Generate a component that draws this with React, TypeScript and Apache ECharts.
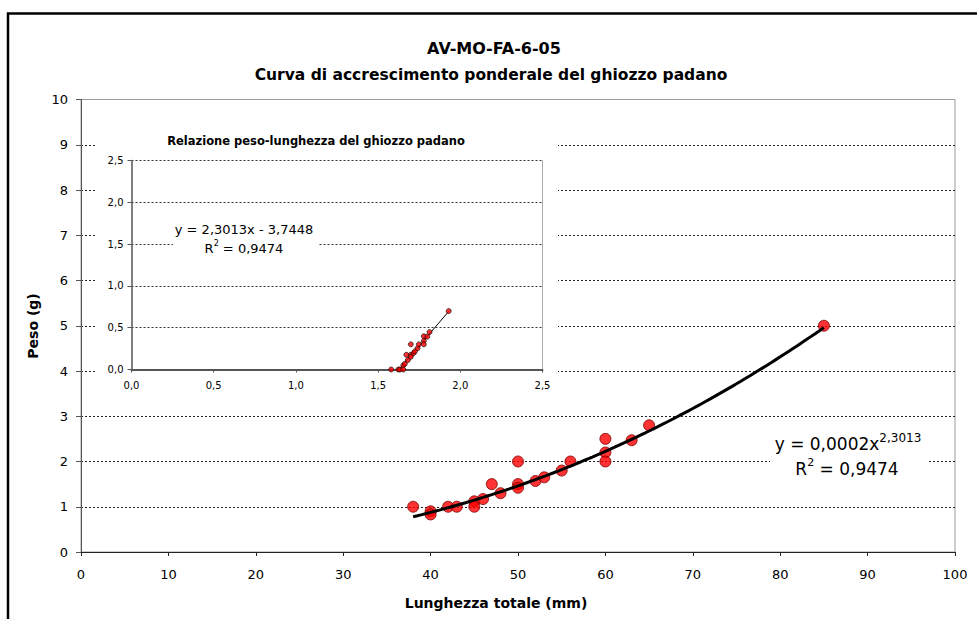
import React, { useEffect, useRef } from "react";
import * as echarts from "echarts";

// ---- data ----
const lengthsMm = [38, 40, 40, 42, 43, 45, 45, 46, 47, 48, 50, 50, 50, 52, 53, 55, 56, 60, 60, 60, 63, 65, 85];
const weightsG = [1.0, 0.9, 0.83, 1.0, 1.0, 1.12, 1.0, 1.17, 1.5, 1.3, 2.0, 1.5, 1.42, 1.57, 1.65, 1.8, 2.0, 2.5, 2.2, 2.0, 2.47, 2.8, 5.0];

// fitted trend (log10 W = slope * log10 L + intercept), as printed on the chart
const trendSlope = 2.3013;
const trendIntercept = -3.7448;

const mainXTicks = [0, 100, 10];
const mainYTicks = [0, 10, 1];
const insetTicks = [0, 2.5, 0.5];

const titleText = "AV-MO-FA-6-05";
const subtitleText = "Curva di accrescimento ponderale del ghiozzo padano";
const insetTitleText = "Relazione peso-lunghezza del ghiozzo padano";
const xName = "Lunghezza totale (mm)";
const yName = "Peso (g)";

const FONT = '"DejaVu Sans", Verdana, sans-serif';

export default function App() {
  const ref = useRef<HTMLDivElement>(null);
  useEffect(() => {
    if (!ref.current) return;
    const chart = echarts.init(ref.current, undefined, { renderer: "svg" });

    const mainPts = lengthsMm.map((l, i) => [l, weightsG[i]]);
    const logPts = lengthsMm.map((l, i) => [Math.log10(l), Math.log10(weightsG[i])]);
    const lMin = Math.min(...lengthsMm);
    const lMax = Math.max(...lengthsMm);
    const curve: number[][] = [];
    for (let k = 0; k <= 94; k++) {
      const l = lMin + ((lMax - lMin) * k) / 94;
      curve.push([l, Math.pow(10, trendSlope * Math.log10(l) + trendIntercept)]);
    }
    const lgMin = Math.log10(lMin);
    const lgMax = Math.log10(lMax);
    const insetLine = [
      [lgMin, trendSlope * lgMin + trendIntercept],
      [lgMax, trendSlope * lgMax + trendIntercept],
    ];
    const comma = (v: number) => v.toFixed(1).replace(".", ",");
    const center = { align: "center", verticalAlign: "middle", textAlign: "center", textVerticalAlign: "middle" };

    chart.setOption({
      animation: false,
      backgroundColor: "#fff",
      textStyle: { fontFamily: FONT, color: "#000" },
      grid: [
        { left: 81, top: 99.5, right: 22, bottom: 67, show: true, borderColor: "#9a9a9a", borderWidth: 1, backgroundColor: "transparent" },
        { left: 131.5, top: 160.5, width: 411, height: 209, show: false },
      ],
      xAxis: [
        {
          gridIndex: 0, type: "value", min: mainXTicks[0], max: mainXTicks[1], interval: mainXTicks[2],
          axisLine: { show: true, onZero: false, lineStyle: { color: "#222", width: 1 } },
          axisTick: { show: true, length: 4, lineStyle: { color: "#222" } },
          axisLabel: { fontSize: 13, margin: 16, color: "#000", fontFamily: FONT },
          splitLine: { show: false },
          z: 2,
        },
        {
          gridIndex: 1, type: "value", min: insetTicks[0], max: insetTicks[1], interval: insetTicks[2],
          axisLine: { show: true, onZero: false, lineStyle: { color: "#555", width: 2 } },
          axisTick: { show: true, length: 3, lineStyle: { color: "#555" } },
          axisLabel: { fontSize: 10, margin: 11, color: "#000", fontFamily: FONT, formatter: comma },
          splitLine: { show: false },
          z: 5,
        },
      ],
      yAxis: [
        {
          gridIndex: 0, type: "value", min: mainYTicks[0], max: mainYTicks[1], interval: mainYTicks[2],
          axisLine: { show: true, onZero: false, lineStyle: { color: "#555", width: 1 } },
          axisTick: { show: true, length: 5, lineStyle: { color: "#555" } },
          axisLabel: { fontSize: 13, margin: 13, color: "#000", fontFamily: FONT },
          splitLine: { show: true, showMinLine: false, showMaxLine: false, lineStyle: { color: "#222", type: [2, 2], width: 1 } },
          z: 2,
        },
        {
          gridIndex: 1, type: "value", min: insetTicks[0], max: insetTicks[1], interval: insetTicks[2],
          axisLine: { show: true, onZero: false, lineStyle: { color: "#555", width: 1.5 } },
          axisTick: { show: true, length: 4, lineStyle: { color: "#555" } },
          axisLabel: { fontSize: 10, margin: 8, color: "#000", fontFamily: FONT, formatter: comma },
          splitLine: { show: true, showMinLine: false, lineStyle: { color: "#333", type: [2, 2], width: 1 } },
          z: 5,
        },
        {
          gridIndex: 1, type: "value", position: "right", min: insetTicks[0], max: insetTicks[1], interval: insetTicks[2],
          axisLine: { show: true, onZero: false, lineStyle: { color: "#aaa", width: 1 } },
          axisTick: { show: false }, axisLabel: { show: false }, splitLine: { show: false },
          z: 5,
        },
      ],
      series: [
        {
          type: "scatter", xAxisIndex: 0, yAxisIndex: 0, data: mainPts, symbolSize: 11,
          itemStyle: { color: "#ff0000", borderColor: "#7a0000", borderWidth: 1 }, z: 4,
        },
        {
          type: "line", xAxisIndex: 0, yAxisIndex: 0, data: curve, showSymbol: false, symbol: "none",
          lineStyle: { color: "#000", width: 3 }, z: 5,
        },
        {
          type: "line", xAxisIndex: 1, yAxisIndex: 1, data: insetLine, showSymbol: false, symbol: "none", clip: true,
          lineStyle: { color: "#000", width: 1 }, z: 6,
        },
        {
          type: "scatter", xAxisIndex: 1, yAxisIndex: 1, data: logPts, symbolSize: 5, clip: true,
          itemStyle: { color: "#ff0000", borderColor: "#000", borderWidth: 0.8 }, z: 7,
        },
      ],
      graphic: [
        { type: "rect", z: 1, shape: { x: 8, y: 13.5, width: 1200, height: 900 }, style: { fill: "none", stroke: "#000", lineWidth: 2.5 } },
        { type: "rect", z: 3, shape: { x: 96, y: 124, width: 462, height: 271 }, style: { fill: "#fff" } },
        { type: "rect", z: 3, shape: { x: 770, y: 432, width: 158, height: 46 }, style: { fill: "#fff" } },
        { type: "rect", z: 7, shape: { x: 173, y: 221, width: 145, height: 37 }, style: { fill: "#fff" } },
        { type: "text", z: 8, x: 494, y: 48, style: { text: titleText, font: `bold 16px ${FONT}`, fill: "#000", ...center } },
        { type: "text", z: 8, x: 491, y: 75, style: { text: subtitleText, font: `bold 15.5px ${FONT}`, fill: "#000", ...center } },
        { type: "text", z: 8, x: 316, y: 141, style: { text: insetTitleText, font: `bold 11.5px ${FONT}`, fill: "#000", ...center } },
        { type: "text", z: 8, x: 496, y: 603, style: { text: xName, font: `bold 14px ${FONT}`, fill: "#000", ...center } },
        { type: "text", z: 8, x: 33, y: 326, rotation: Math.PI / 2, style: { text: yName, font: `bold 14px ${FONT}`, fill: "#000", ...center } },
        {
          type: "text", z: 8, x: 848, y: 444,
          style: {
            text: "{a|y = 0,0002x}{s|2,3013}", ...center,
            rich: {
              a: { fontSize: 17, fontFamily: FONT, fill: "#000", color: "#000", lineHeight: 24 },
              s: { fontSize: 12, fontFamily: FONT, fill: "#000", color: "#000", lineHeight: 12, verticalAlign: "top" },
            },
          },
        },
        {
          type: "text", z: 8, x: 847, y: 469,
          style: {
            text: "{a|R}{s|2}{a| = 0,9474}", ...center,
            rich: {
              a: { fontSize: 17, fontFamily: FONT, fill: "#000", color: "#000", lineHeight: 24 },
              s: { fontSize: 11, fontFamily: FONT, fill: "#000", color: "#000", lineHeight: 12, verticalAlign: "top" },
            },
          },
        },
        { type: "text", z: 8, x: 244, y: 229, style: { text: "y = 2,3013x - 3,7448", font: `13px ${FONT}`, fill: "#000", ...center } },
        {
          type: "text", z: 8, x: 244, y: 248,
          style: {
            text: "{a|R}{s|2}{a| = 0,9474}", ...center,
            rich: {
              a: { fontSize: 13, fontFamily: FONT, fill: "#000", color: "#000", lineHeight: 18 },
              s: { fontSize: 8, fontFamily: FONT, fill: "#000", color: "#000", lineHeight: 9, verticalAlign: "top" },
            },
          },
        },
      ],
    });
    return () => chart.dispose();
  }, []);
  return (
    <div
      ref={ref}
      style={{ position: "absolute", left: 0, top: 0, width: 977, height: 619, overflow: "hidden" }}
    />
  );
}
